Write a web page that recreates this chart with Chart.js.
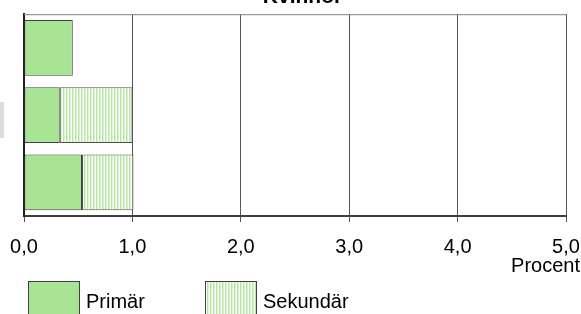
<!DOCTYPE html>
<html>
<head>
<meta charset="utf-8">
<script src="https://cdn.jsdelivr.net/npm/chart.js@4/dist/chart.umd.min.js"></script>
<style>
  html, body { margin: 0; padding: 0; background: #fff; overflow: hidden; }
  #wrap { position: relative; width: 581px; height: 314px; overflow: hidden; }
  #wrap canvas { position: absolute; left: 0; top: -15px; }
  #stub { position: absolute; left: 0; top: 102px; width: 4px; height: 36px; background: #dddddd; }
</style>
</head>
<body>
<div id="wrap">
  <div id="stub"></div>
  <canvas id="kvinnor" width="581" height="329"></canvas>
</div>
<script>
// data
const categories = ["", "", ""];
const primar = [0.45, 0.33, 0.535];
const sekundar = [0, 0.67, 0.475];
const tickLabels = ["0,0", "1,0", "2,0", "3,0", "4,0", "5,0"];
const seriesNames = ["Primär", "Sekundär"];

const green = "#a9e394";
const FONT = "'Liberation Sans', Arial, sans-serif";
const OFF = 15; // canvas is shifted up by this much

// vertical stripes for the secondary series
function stripes() {
  const c = document.createElement("canvas");
  c.width = 3; c.height = 4;
  const g = c.getContext("2d");
  g.fillStyle = "#ffffff"; g.fillRect(0, 0, 3, 4);
  g.fillStyle = "#b6e7a2"; g.fillRect(0, 0, 1, 4);
  g.fillStyle = "#dcf3d2"; g.fillRect(1, 0, 1, 4);
  return g.createPattern(c, "repeat");
}
const striped = stripes();

const extras = {
  id: "extras",
  beforeDatasetsDraw(chart) {
    const ctx = chart.ctx, a = chart.chartArea;
    ctx.save();
    ctx.strokeStyle = "#808080";
    ctx.lineWidth = 1;
    ctx.beginPath();
    ctx.moveTo(a.left, a.top + 0.5);
    ctx.lineTo(a.right, a.top + 0.5);
    ctx.stroke();
    ctx.restore();
  },
  afterDraw(chart) {
    const ctx = chart.ctx;
    ctx.save();
    ctx.font = "20px " + FONT;
    ctx.fillStyle = "#000";
    ctx.textBaseline = "alphabetic";
    ctx.textAlign = "right";
    ctx.fillText("Procent", 580, 272 + OFF);
    // legend
    const items = [
      { x: 28, fill: green, text: seriesNames[0] },
      { x: 205, fill: striped, text: seriesNames[1] }
    ];
    ctx.textAlign = "left";
    items.forEach(it => {
      ctx.fillStyle = it.fill;
      ctx.fillRect(it.x, 281 + OFF, 51, 40);
      ctx.strokeStyle = "#404040";
      ctx.lineWidth = 1;
      ctx.strokeRect(it.x + 0.5, 281.5 + OFF, 51, 40);
      ctx.fillStyle = "#000";
      ctx.fillText(it.text, it.x + 58, 308 + OFF);
    });
    ctx.restore();
  }
};

new Chart(document.getElementById("kvinnor"), {
  type: "bar",
  data: {
    labels: categories,
    datasets: [{
        label: seriesNames[0],
        data: primar,
        backgroundColor: green,
        borderColor: "#404040",
        borderWidth: 1,
        borderSkipped: false,
        barPercentage: 0.83,
        categoryPercentage: 1
      },
      {
        label: seriesNames[1],
        data: sekundar,
        backgroundColor: striped,
        borderColor: "#505050",
        borderWidth: 1,
        borderSkipped: false,
        barPercentage: 0.83,
        categoryPercentage: 1
      }
    ]
  },
  options: {
    indexAxis: "y",
    responsive: false,
    animation: false,
    layout: { padding: { left: 24, right: 0, top: 0, bottom: 42 } },
    plugins: {
      legend: { display: false },
      tooltip: { enabled: false },
      title: {
        display: true,
        text: "Kvinnor",
        color: "#000",
        font: { family: FONT, size: 21, weight: "bold" },
        padding: { top: 0, bottom: 4 }
      }
    },
    scales: {
      x: {
        stacked: true,
        min: 0,
        max: 5,
        afterFit(scale) {
          scale.paddingRight = 15;
          scale.paddingLeft = 0;
        },
        ticks: {
          stepSize: 1,
          color: "#000",
          padding: 13,
          maxRotation: 0,
          font: { family: FONT, size: 20 },
          callback: (v, i) => tickLabels[i]
        },
        grid: { color: "#555", tickLength: 6, tickColor: "#555" },
        border: { color: "#404040", width: 2 }
      },
      y: {
        stacked: true,
        ticks: { display: false },
        grid: { display: false, drawTicks: false },
        border: { color: "#222", width: 2 }
      }
    }
  },
  plugins: [extras]
});
</script>
</body>
</html>
